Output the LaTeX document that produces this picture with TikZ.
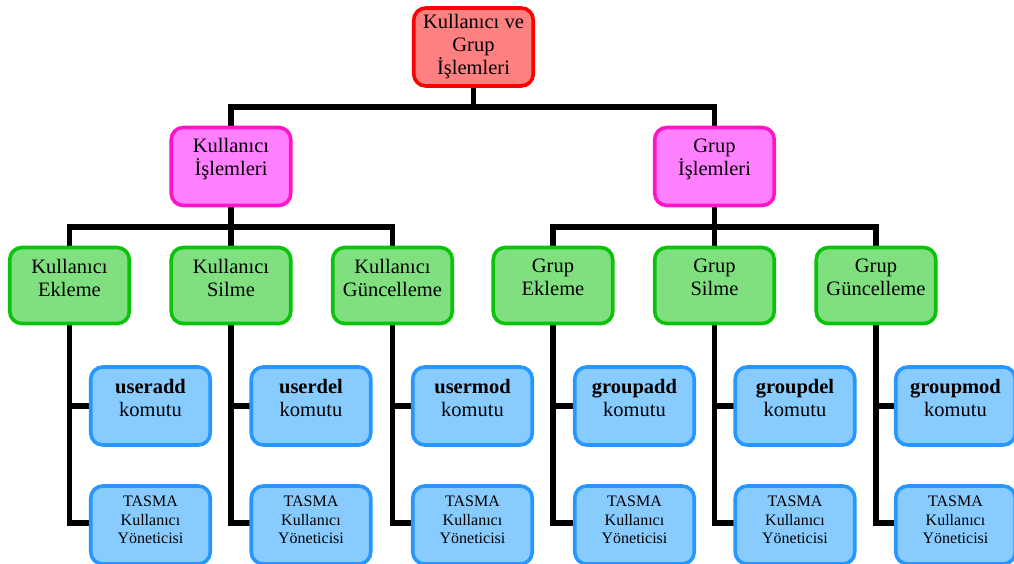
\documentclass[tikz,border=0pt]{standalone}
\usepackage{fontspec}
\setmainfont{Liberation Serif}
\usetikzlibrary{backgrounds}
\begin{document}
\begin{tikzpicture}[x=1pt,y=-1pt,
  box/.style={draw,rounded corners=12pt,line width=3.6pt,minimum width=119.5pt,minimum height=78pt,inner sep=0pt},
  rootbox/.style={box,fill=rootfill,draw=rootline},
  magbox/.style={box,fill=magfill,draw=magline},
  grnbox/.style={box,fill=grnfill,draw=grnline,minimum height=76pt},
  blubox/.style={box,fill=blufill,draw=bluline},
  txt/.style={align=center,inner sep=0pt,font=\fontsize{20.5}{23}\selectfont},
  smalltxt/.style={align=center,inner sep=0pt,font=\fontsize{16}{18.5}\selectfont},
  conn/.style={line width=5.5pt,black,line cap=rect,line join=miter}]
\definecolor{rootfill}{RGB}{255,128,128}
\definecolor{rootline}{RGB}{255,0,0}
\definecolor{magfill}{RGB}{255,128,255}
\definecolor{magline}{RGB}{255,20,200}
\definecolor{grnfill}{RGB}{128,224,128}
\definecolor{grnline}{RGB}{10,195,10}
\definecolor{blufill}{RGB}{136,204,255}
\definecolor{bluline}{RGB}{40,150,255}
\useasboundingbox (0,0) rectangle (1014,564);
\clip (0,0) rectangle (1014,564);
% boxes
\node[rootbox] (root) at (473.5,47) {};
\node[magbox] (ki) at (231,166.5) {};
\node[magbox] (gi) at (714.5,166.5) {};
\foreach \n/\x in {g1/69.5,g2/231,g3/392.5,g4/553,g5/714.5,g6/876}{
  \node[grnbox] (\n) at (\x,285.5) {};
}
\foreach \n/\x in {u1/150.5,u2/311,u3/472.5,u4/634.5,u5/795,u6/955.5}{
  \node[blubox] (\n) at (\x,406) {};
}
\foreach \n/\x in {t1/150.5,t2/311,t3/472.5,t4/634.5,t5/795,t6/955.5}{
  \node[blubox] (\n) at (\x,525) {};
}
% bar junctions
\coordinate (bar1) at (473.5,107);
\coordinate (barL) at (231,227);
\coordinate (barR) at (714.5,227);
\coordinate (low) at (0,523);
% connectors behind the boxes
\begin{scope}[on background layer]
\fill[white] (0,0) rectangle (1014,564);
\draw[conn] (root.south) -- (bar1);
\draw[conn] (ki.north) -- (ki.north |- bar1) -- (gi.north |- bar1) -- (gi.north);
\draw[conn] (ki.south) -- (barL);
\draw[conn] (g1.north) -- (g1.north |- barL) -- (g3.north |- barL) -- (g3.north);
\draw[conn] (g2.north) -- (barL);
\draw[conn] (gi.south) -- (barR);
\draw[conn] (g4.north) -- (g4.north |- barR) -- (g6.north |- barR) -- (g6.north);
\draw[conn] (g5.north) -- (barR);
\foreach \g/\u/\t in {g1/u1/t1,g2/u2/t2,g3/u3/t3,g4/u4/t4,g5/u5/t5,g6/u6/t6}{
  \draw[conn] (\g.south) -- (\g.south |- low) -- (\t.west |- low);
  \draw[conn] (\g.south |- \u.west) -- (\u.west);
}
\end{scope}
% texts
\node[txt] (rootT) at (473.5,47) {Kullanıcı ve\\Grup\\İşlemleri};
\node[txt] (kiT) at (231,159.5) {Kullanıcı\\İşlemleri};
\node[txt] (giT) at (714.5,159.5) {Grup\\İşlemleri};
\node[txt] (g1T) at (69.5,277.5) {Kullanıcı\\Ekleme};
\node[txt] (g2T) at (231,277.5) {Kullanıcı\\Silme};
\node[txt] (g3T) at (392.5,277.5) {Kullanıcı\\Güncelleme};
\node[txt] (g4T) at (553,277.5) {Grup\\Ekleme};
\node[txt] (g5T) at (714.5,277.5) {Grup\\Silme};
\node[txt] (g6T) at (876,277.5) {Grup\\Güncelleme};
\foreach \n/\x/\c in {u1T/150.5/useradd,u2T/311/userdel,u3T/472.5/usermod,u4T/634.5/groupadd,u5T/795/groupdel,u6T/955.5/groupmod}{
  \node[txt] (\n) at (\x,397.5) {\textbf{\c}\\komutu};
}
\foreach \n/\x in {t1T/150.5,t2T/311,t3T/472.5,t4T/634.5,t5T/795,t6T/955.5}{
  \node[smalltxt] (\n) at (\x,520) {TASMA\\Kullanıcı\\Yöneticisi};
}
\end{tikzpicture}
\end{document}
